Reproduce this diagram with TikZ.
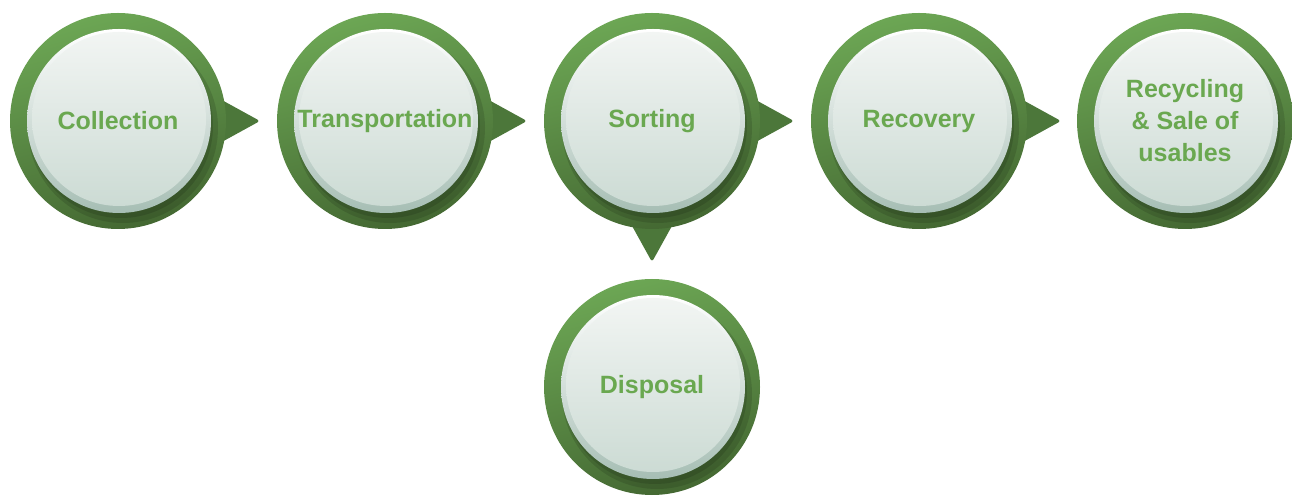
\documentclass[tikz,border=0pt]{standalone}
\usepackage{fontspec}
\setmainfont{Liberation Sans}
\usetikzlibrary{calc,backgrounds}
\definecolor{ringtop}{RGB}{108,166,84}
\definecolor{ringbot}{RGB}{68,104,50}
\definecolor{pointgreen}{RGB}{76,119,58}
\definecolor{facetop}{RGB}{242,245,243}
\definecolor{facebot}{RGB}{204,219,212}
\definecolor{rimbot}{RGB}{166,190,180}
\definecolor{textgreen}{RGB}{106,168,80}

\begin{document}
\begin{tikzpicture}[x=1pt,y=1pt]
\tikzstyle{pointer}=[fill=pointgreen,rounded corners=3pt]
\tikzset{stage/.style={circle,minimum size=216pt,inner sep=0pt,
  top color=ringtop,bottom color=ringbot,shading angle=15,
  text=textgreen,font=\fontsize{25}{32}\selectfont\bfseries,align=center,
  path picture={
    \fill[black,opacity=.12] ([shift={(5pt,-7pt)}]path picture bounding box.center) circle (95pt);
    \fill[black,opacity=.12] ([shift={(3pt,-5pt)}]path picture bounding box.center) circle (92pt);
    \shade[top color=white,bottom color=rimbot] ([xshift=1pt]path picture bounding box.center) circle (92pt);
    \shade[top color=facetop,bottom color=facebot] ([shift={(1pt,2pt)}]path picture bounding box.center) circle (87pt);
  }}}
\useasboundingbox (0,0) rectangle (1292,495);

\node[stage] (collection) at (118,374) {Collection};
\node[stage] (transport) at (385,374) {Transportation};
\node[stage] (sorting) at (652,374) {Sorting};
\node[stage] (recovery) at (919,374) {Recovery};
\node[stage] (recycling) at (1185,374) {Recycling\\\& Sale of\\usables};
\node[stage] (disposal) at (652,108) {Disposal};

% pointers behind the rings
\begin{scope}[on background layer]
\fill[pointer] ($(collection)!78pt!90:(transport)$) -- ($(collection)!142pt!(transport)$) -- ($(collection)!78pt!-90:(transport)$) -- cycle;
\fill[pointer] ($(transport)!78pt!90:(sorting)$) -- ($(transport)!142pt!(sorting)$) -- ($(transport)!78pt!-90:(sorting)$) -- cycle;
\fill[pointer] ($(sorting)!78pt!90:(recovery)$) -- ($(sorting)!142pt!(recovery)$) -- ($(sorting)!78pt!-90:(recovery)$) -- cycle;
\fill[pointer] ($(recovery)!78pt!90:(recycling)$) -- ($(recovery)!142pt!(recycling)$) -- ($(recovery)!78pt!-90:(recycling)$) -- cycle;
\fill[pointer] ($(sorting)!78pt!90:(disposal)$) -- ($(sorting)!141pt!(disposal)$) -- ($(sorting)!78pt!-90:(disposal)$) -- cycle;
\end{scope}
\end{tikzpicture}
\end{document}
